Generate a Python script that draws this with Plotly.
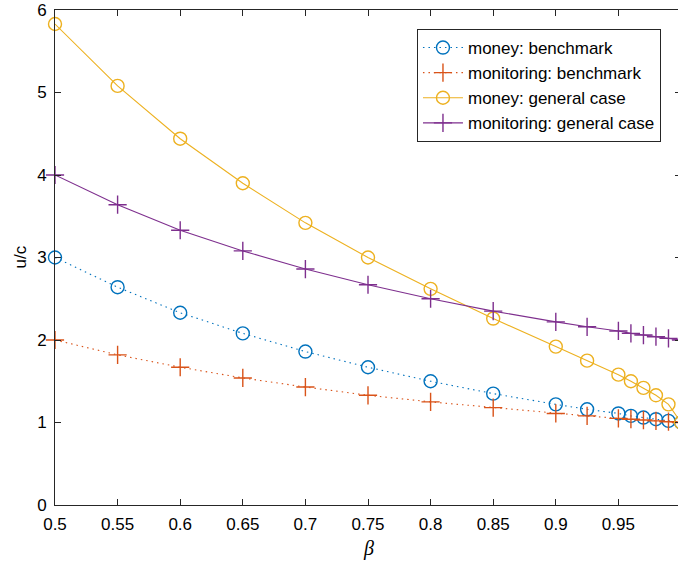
import plotly.graph_objects as go

beta = [0.5, 0.55, 0.6, 0.65, 0.7, 0.75, 0.8, 0.85, 0.9, 0.925, 0.95, 0.96, 0.97, 0.98, 0.99, 1.0]
money_bench = [3.00, 2.64, 2.33, 2.08, 1.86, 1.67, 1.50, 1.35, 1.22, 1.16, 1.11, 1.08, 1.06, 1.04, 1.02, 1.00]
monit_bench = [2.00, 1.82, 1.67, 1.54, 1.43, 1.33, 1.25, 1.18, 1.11, 1.08, 1.05, 1.04, 1.03, 1.02, 1.01, 1.00]
money_gen = [5.83, 5.08, 4.44, 3.90, 3.42, 3.00, 2.62, 2.26, 1.92, 1.75, 1.58, 1.50, 1.42, 1.33, 1.22, 1.00]
monit_gen = [4.00, 3.64, 3.33, 3.08, 2.86, 2.67, 2.50, 2.35, 2.22, 2.16, 2.11, 2.08, 2.06, 2.04, 2.02, 2.00]

x_ticks = [0.5, 0.55, 0.6, 0.65, 0.7, 0.75, 0.8, 0.85, 0.9, 0.95, 1.0]
x_tick_text = ["0.5", "0.55", "0.6", "0.65", "0.7", "0.75", "0.8", "0.85", "0.9", "0.95", "1"]
y_ticks = [0, 1, 2, 3, 4, 5, 6]

BLUE = "#0072BD"
ORANGE = "#D95319"
YELLOW = "#EDB120"
PURPLE = "#7E2F8E"
AXC = "#262626"
FONT = "Liberation Sans, Arial, Helvetica, sans-serif"

fig = go.Figure()

def add(name, y, color, dash, symbol, size):
    fig.add_trace(go.Scatter(
        x=beta, y=y, name=name, mode="lines+markers",
        line=dict(color=color, width=1.1, dash=dash),
        marker=dict(symbol=symbol, size=size, color=color,
                    line=dict(color=color, width=1.4)),
        cliponaxis=False,
    ))

add("money: benchmark", money_bench, BLUE, "1.5px,4px", "circle-open", 13)
add("monitoring: benchmark", monit_bench, ORANGE, "1.5px,4px", "cross-thin-open", 13)
add("money: general case", money_gen, YELLOW, "solid", "circle-open", 13)
add("monitoring: general case", monit_gen, PURPLE, "solid", "cross-thin-open", 13)

axis_common = dict(
    showline=True, linecolor=AXC, linewidth=1, mirror="ticks",
    ticks="inside", ticklen=6, tickcolor=AXC, tickwidth=1,
    showgrid=False, zeroline=False,
    tickfont=dict(family=FONT, size=17, color="#000000"),
)

fig.update_layout(
    width=681, height=567,
    margin=dict(l=55, r=0, t=10, b=62),
    paper_bgcolor="white", plot_bgcolor="white",
    showlegend=True,
    legend=dict(
        x=0.968, y=0.9616, xanchor="right", yanchor="top",
        bgcolor="white", bordercolor=AXC, borderwidth=1,
        font=dict(family=FONT, size=17, color="#000000"),
        itemwidth=40,
    ),
    xaxis=dict(range=[0.5, 1.0], tickvals=x_ticks, ticktext=x_tick_text,
               ticklabelstandoff=4, **axis_common),
    yaxis=dict(range=[0, 6], tickvals=y_ticks, ticklabelstandoff=4, **axis_common),
    annotations=[
        dict(text="β", xref="paper", yref="paper", x=0.5, y=0, xanchor="center",
             yanchor="middle", yshift=-43, showarrow=False,
             font=dict(family="Liberation Serif, Times New Roman, serif", size=20, color="#000000",
                       style="italic")),
        dict(text="u/c", xref="paper", yref="paper", x=0, y=0.5, xanchor="center",
             yanchor="middle", xshift=-35, textangle=-90, showarrow=False,
             font=dict(family=FONT, size=17, color="#000000")),
    ],
)

fig.write_html("out.html", config={"displayModeBar": False},
               post_script="document.body.style.margin='0px';")
